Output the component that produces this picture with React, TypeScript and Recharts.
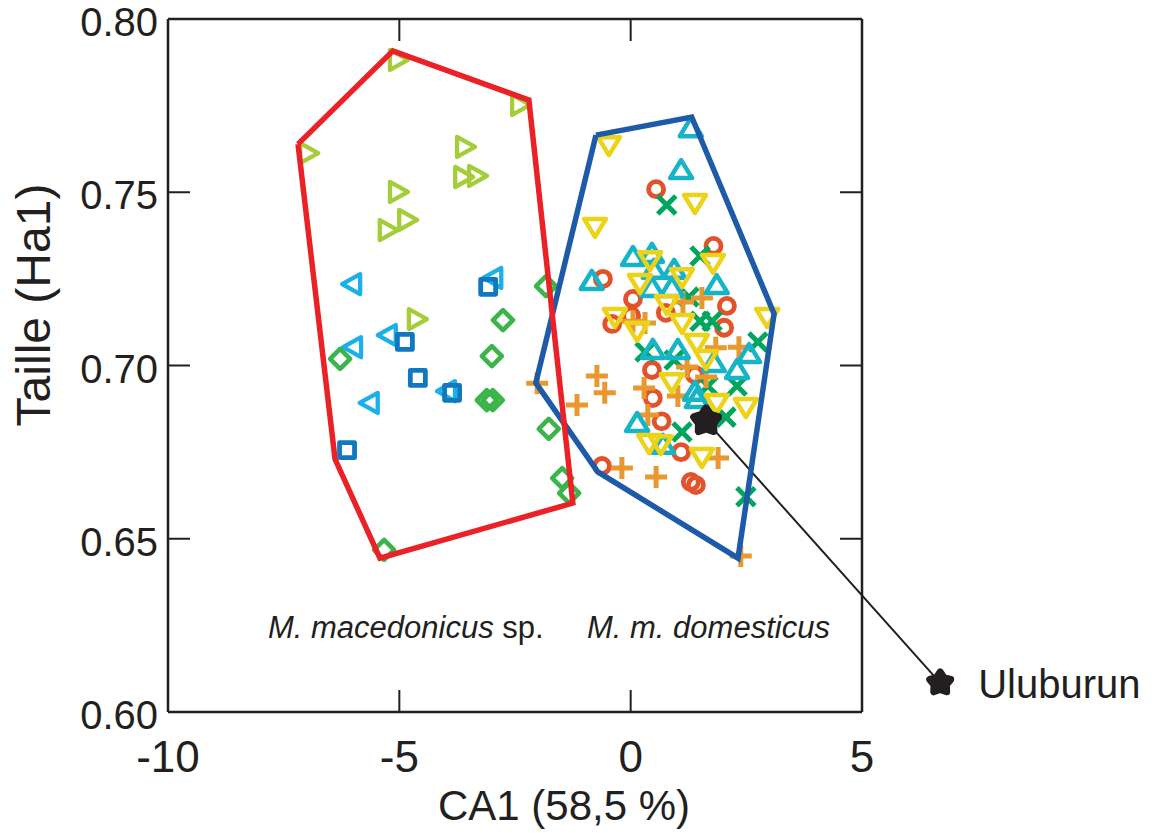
import React from 'react';
import { ScatterChart, Scatter, XAxis, YAxis, ReferenceLine, ReferenceDot } from 'recharts';

// M. macedonicus sp. samples
const rightTriangles = [
  [-5.03, 0.7882], [-2.39, 0.7752], [-6.97, 0.7613], [-3.58, 0.7631], [-3.62, 0.7544],
  [-3.32, 0.7547], [-5.03, 0.7501], [-4.83, 0.742], [-5.25, 0.7391], [-4.62, 0.7134],
];
const leftTriangles = [
  [-6.02, 0.7235], [-2.97, 0.7253], [-5.25, 0.7088], [-6.0, 0.7053], [-3.97, 0.6926], [-5.64, 0.6892],
];
const squares = [
  [-3.08, 0.7227], [-4.88, 0.7068], [-4.6, 0.6964], [-3.86, 0.6921], [-6.13, 0.6756],
];
const diamonds = [
  [-1.83, 0.7229], [-2.76, 0.7131], [-3.0, 0.7027], [-3.11, 0.69], [-2.98, 0.69],
  [-6.28, 0.7019], [-1.77, 0.6817], [-1.48, 0.6675], [-1.33, 0.6632], [-5.33, 0.6468],
];

// M. m. domesticus samples
const circles = [
  [0.55, 0.7509], [1.79, 0.7345], [-0.6, 0.725], [0.05, 0.7192], [2.08, 0.7172], [-0.4, 0.712],
  [0.01, 0.7143], [0.76, 0.7152], [2.02, 0.7109], [0.46, 0.6987], [1.39, 0.6973], [0.48, 0.6906],
  [0.67, 0.6839], [1.09, 0.675], [-0.62, 0.671], [1.3, 0.6664], [1.41, 0.6655],
];
const crosses = [
  [0.78, 0.7463], [1.5, 0.7316], [1.26, 0.7198], [1.5, 0.7128], [1.76, 0.7128], [2.75, 0.7068],
  [0.31, 0.7039], [0.94, 0.7016], [1.67, 0.6941], [2.3, 0.6941], [2.06, 0.6851], [1.11, 0.6808],
  [2.49, 0.6621],
];
const pluses = [
  [1.54, 0.7195], [0.05, 0.7128], [0.31, 0.7123], [2.34, 0.7053], [1.84, 0.7051], [1.22, 0.6996],
  [1.63, 0.6967], [1.02, 0.6912], [0.29, 0.6935], [0.37, 0.6857], [-0.73, 0.697], [-0.56, 0.6921],
  [-1.16, 0.6886], [-2.02, 0.6949], [-0.19, 0.6704], [0.55, 0.6678], [1.89, 0.6733], [2.38, 0.645],
  [1.13, 0.7183],
];
const upTriangles = [
  [1.3, 0.7685], [1.09, 0.7564], [0.05, 0.7313], [0.46, 0.7322], [0.5, 0.7276], [-0.84, 0.7244],
  [0.94, 0.7276], [0.46, 0.7224], [0.89, 0.7224], [1.86, 0.7232], [0.48, 0.7045], [1.02, 0.7045],
  [1.8, 0.7007], [2.3, 0.6987], [2.56, 0.7033], [1.43, 0.6903], [1.39, 0.6924], [0.14, 0.6834],
  [0.7, 0.6771],
];
const downTriangles = [
  [-0.47, 0.7636], [-0.77, 0.74], [1.39, 0.7469], [0.42, 0.7304], [1.78, 0.7296], [1.11, 0.7255],
  [0.2, 0.7238], [0.78, 0.7177], [-0.34, 0.714], [0.14, 0.71], [1.11, 0.7123], [2.95, 0.714],
  [1.43, 0.7065], [1.63, 0.7019], [0.89, 0.6952], [1.86, 0.6892], [2.49, 0.688], [0.4, 0.6776],
  [0.65, 0.6773], [1.54, 0.6736],
];

const uluburun = [[1.63, 0.684]];
const uluburunLabel = { x: 6.69, y: 0.6084, text: 'Uluburun' };

const macedonicusHull = [
  [-7.19, 0.7639], [-5.14, 0.7908], [-2.2, 0.7766], [-1.25, 0.6603], [-5.42, 0.6444], [-6.39, 0.673], [-7.19, 0.7639],
];
const domesticusHull = [
  [-0.75, 0.7665], [1.32, 0.7717], [3.1, 0.7149], [2.32, 0.6444], [-0.71, 0.6693], [-2.05, 0.695], [-0.75, 0.7665],
];

const xTicks = [-10, -5, 0, 5];
const yTicks = [0.6, 0.65, 0.7, 0.75, 0.8];
const xDomain = [-10, 5];
const yDomain = [0.6, 0.8];

const pts = (arr: number[][]) => arr.map(([x, y]) => ({ x, y }));

const INK = '#231f20';
const FONT = '"Liberation Sans", Arial, Helvetica, sans-serif';

function makeShape(kind: string, color: string) {
  return (props: any) => {
    const { cx, cy } = props;
    if (cx == null || cy == null) return <g />;
    const common = { fill: 'none', stroke: color, strokeLinejoin: 'round' as const };
    switch (kind) {
      case 'right':
        return <path d={`M${cx - 8},${cy - 10}L${cx + 10},${cy}L${cx - 8},${cy + 10}Z`} {...common} strokeWidth={4.3} />;
      case 'left':
        return <path d={`M${cx + 8},${cy - 10}L${cx - 10},${cy}L${cx + 8},${cy + 10}Z`} {...common} strokeWidth={4.3} />;
      case 'up':
        return <path d={`M${cx},${cy - 10}L${cx + 11},${cy + 8}L${cx - 11},${cy + 8}Z`} {...common} strokeWidth={4.5} />;
      case 'down':
        return <path d={`M${cx - 11},${cy - 8}L${cx + 11},${cy - 8}L${cx},${cy + 10}Z`} {...common} strokeWidth={4.5} />;
      case 'square':
        return <rect x={cx - 7.5} y={cy - 7.5} width={15} height={15} {...common} strokeWidth={4.8} />;
      case 'diamond':
        return <path d={`M${cx},${cy - 10}L${cx + 10},${cy}L${cx},${cy + 10}L${cx - 10},${cy}Z`} {...common} strokeWidth={4.6} />;
      case 'circle':
        return <circle cx={cx} cy={cy} r={7.5} {...common} strokeWidth={4.8} />;
      case 'cross':
        return <path d={`M${cx - 9},${cy - 9}L${cx + 9},${cy + 9}M${cx + 9},${cy - 9}L${cx - 9},${cy + 9}`} {...common} strokeWidth={5} />;
      case 'plus':
        return <path d={`M${cx - 11},${cy}L${cx + 11},${cy}M${cx},${cy - 11}L${cx},${cy + 11}`} {...common} strokeWidth={5} />;
      default:
        return <g />;
    }
  };
}

function starPath(cx: number, cy: number, R: number, r: number) {
  let d = '';
  for (let i = 0; i < 10; i++) {
    const a = -Math.PI / 2 + (i * Math.PI) / 5;
    const rad = i % 2 === 0 ? R : r;
    d += `${i === 0 ? 'M' : 'L'}${cx + rad * Math.cos(a)},${cy + rad * Math.sin(a)}`;
  }
  return d + 'Z';
}

const StarShape = (props: any) => {
  const { cx, cy } = props;
  if (cx == null || cy == null) return <g />;
  return <path d={starPath(cx, cy, 12.5, 7.5)} fill={INK} stroke={INK} strokeWidth={8} strokeLinejoin="round" />;
};

const LabelStar = (props: any) => {
  const { cx, cy } = props;
  if (cx == null || cy == null) return <g />;
  return (
    <g>
      <path d={starPath(cx, cy, 11, 6.5)} fill={INK} stroke={INK} strokeWidth={7} strokeLinejoin="round" />
      <text x={cx + 38} y={cy + 15} fontSize={40} fontFamily={FONT} fill={INK}>{uluburunLabel.text}</text>
    </g>
  );
};

const Empty = () => <g />;

const BottomTick = (props: any) => {
  const { x, y, payload } = props;
  const v = payload.value;
  const inner = v !== xDomain[0] && v !== xDomain[1];
  return (
    <g>
      {inner && <line x1={x} y1={y} x2={x} y2={y - 22} stroke={INK} strokeWidth={2} />}
      <text x={x} y={y + 60} textAnchor="middle" fontSize={44} fontFamily={FONT} fill={INK}>{String(v)}</text>
    </g>
  );
};
const TopTick = (props: any) => {
  const { x, y, payload } = props;
  const v = payload.value;
  if (v === xDomain[0] || v === xDomain[1]) return <g />;
  return <line x1={x} y1={y} x2={x} y2={y + 22} stroke={INK} strokeWidth={2} />;
};
const LeftTick = (props: any) => {
  const { x, y, payload } = props;
  const v = payload.value;
  const inner = v !== yDomain[0] && v !== yDomain[1];
  return (
    <g>
      {inner && <line x1={x} y1={y} x2={x + 22} y2={y} stroke={INK} strokeWidth={2} />}
      <text x={x - 10} y={y + 17} textAnchor="end" fontSize={40} fontFamily={FONT} fill={INK}>{Number(v).toFixed(2)}</text>
    </g>
  );
};
const RightTick = (props: any) => {
  const { x, y, payload } = props;
  const v = payload.value;
  if (v === yDomain[0] || v === yDomain[1]) return <g />;
  return <line x1={x} y1={y} x2={x - 22} y2={y} stroke={INK} strokeWidth={2} />;
};

const W = 1155;
const H = 833;

export default function App() {
  const axisLine = { stroke: INK, strokeWidth: 2.5 };
  return (
    <div style={{ position: 'absolute', left: 0, top: 0, width: W, height: H }}>
      <ScatterChart width={W} height={H} margin={{ top: 18, right: 292, bottom: 61, left: 108 }}>
        <XAxis type="number" dataKey="x" domain={xDomain} ticks={xTicks} interval={0} height={60}
          axisLine={axisLine} tickLine={false} tickSize={0} tickMargin={0} tick={<BottomTick />} />
        <XAxis xAxisId="top" orientation="top" type="number" dataKey="x" domain={xDomain} ticks={xTicks} interval={0} height={1}
          axisLine={axisLine} tickLine={false} tickSize={0} tickMargin={0} tick={<TopTick />} />
        <YAxis type="number" dataKey="y" domain={yDomain} ticks={yTicks} interval={0} width={60}
          axisLine={axisLine} tickLine={false} tickSize={0} tickMargin={0} tick={<LeftTick />} />
        <YAxis yAxisId="right" orientation="right" type="number" dataKey="y" domain={yDomain} ticks={yTicks} interval={0} width={1}
          axisLine={axisLine} tickLine={false} tickSize={0} tickMargin={0} tick={<RightTick />} />

        <Scatter data={pts(rightTriangles)} shape={makeShape('right', '#a5cd39')} isAnimationActive={false} />
        <Scatter data={pts(leftTriangles)} shape={makeShape('left', '#1cb0ea')} isAnimationActive={false} />
        <Scatter data={pts(squares)} shape={makeShape('square', '#0f78c0')} isAnimationActive={false} />
        <Scatter data={pts(diamonds)} shape={makeShape('diamond', '#3bb44a')} isAnimationActive={false} />
        <Scatter data={pts(circles)} shape={makeShape('circle', '#e2522b')} isAnimationActive={false} />
        <Scatter data={pts(crosses)} shape={makeShape('cross', '#00a65d')} isAnimationActive={false} />
        <Scatter data={pts(pluses)} shape={makeShape('plus', '#e9972f')} isAnimationActive={false} />
        <Scatter data={pts(upTriangles)} shape={makeShape('up', '#17b4c8')} isAnimationActive={false} />
        <Scatter data={pts(downTriangles)} shape={makeShape('down', '#ecd31a')} isAnimationActive={false} />

        <Scatter data={pts(domesticusHull)} xAxisId="top" yAxisId="right" shape={Empty}
          line={{ stroke: '#1d5aa8', strokeWidth: 5.5, strokeLinejoin: 'miter' }} lineType="joint" isAnimationActive={false} />
        <Scatter data={pts(macedonicusHull)} xAxisId="top" yAxisId="right" shape={Empty}
          line={{ stroke: '#ea2127', strokeWidth: 5.5, strokeLinejoin: 'miter' }} lineType="joint" isAnimationActive={false} />

        <ReferenceLine segment={[{ x: uluburun[0][0], y: uluburun[0][1] }, { x: uluburunLabel.x, y: uluburunLabel.y }]}
          stroke={INK} strokeWidth={2} ifOverflow="visible" />
        <Scatter data={pts(uluburun)} shape={StarShape} isAnimationActive={false} />
        <ReferenceDot x={uluburunLabel.x} y={uluburunLabel.y} ifOverflow="visible" shape={LabelStar} />
      </ScatterChart>
      <svg width={W} height={H} style={{ position: 'absolute', left: 0, top: 0, pointerEvents: 'none' }}>
        <text transform="translate(50,305) rotate(-90)" textAnchor="middle" fontSize={48} fontFamily={FONT} fill={INK}>Taille (Ha1)</text>
        <text x={564} y={820} textAnchor="middle" fontSize={42} fontFamily={FONT} fill={INK}>CA1 (58,5 %)</text>
        <text x={268} y={638} fontSize={31} fontFamily={FONT} fill={INK}>
          <tspan fontStyle="italic">M. macedonicus</tspan> sp.
        </text>
        <text x={587} y={638} fontSize={31} fontFamily={FONT} fill={INK} fontStyle="italic">M. m. domesticus</text>
      </svg>
    </div>
  );
}
